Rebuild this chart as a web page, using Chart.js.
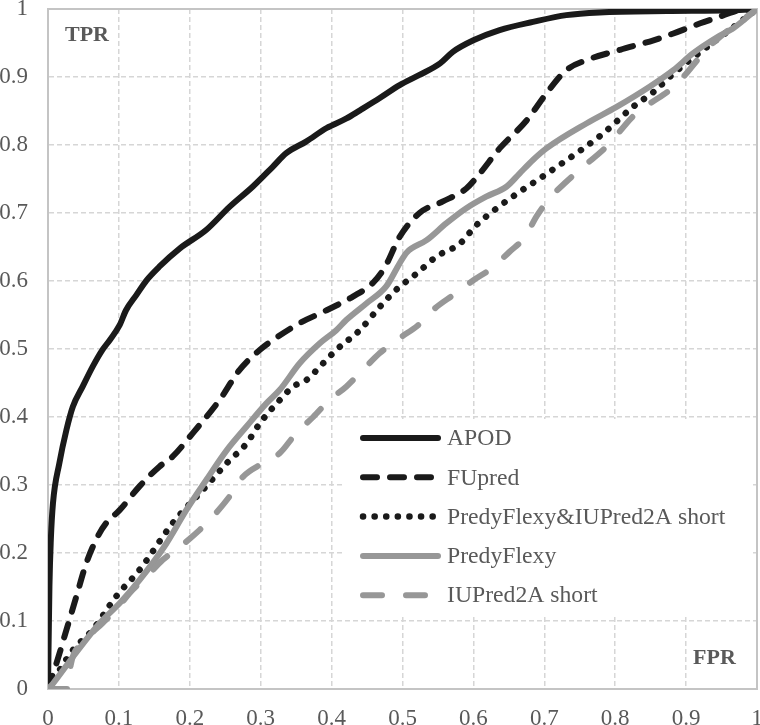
<!DOCTYPE html>
<html>
<head>
<meta charset="utf-8">
<script src="https://cdn.jsdelivr.net/npm/chart.js@4.4.1/dist/chart.umd.min.js"></script>
<style>
  body { margin: 0; background: #fff; }
  #wrap { width: 760px; height: 725px; }
</style>
</head>
<body>
<div id="wrap"><canvas id="roc"></canvas></div>
<script>
// ROC curves (FPR on x, TPR on y)
const tickLabels = ['0', '0.1', '0.2', '0.3', '0.4', '0.5', '0.6', '0.7', '0.8', '0.9', '1'];
const seriesNames = ['APOD', 'FUpred', 'PredyFlexy&IUPred2A short', 'PredyFlexy', 'IUPred2A short'];

const apodFpr = [0, 0.002, 0.004, 0.007, 0.016, 0.026, 0.035, 0.049, 0.063, 0.077, 0.087, 0.101, 0.110, 0.125, 0.139, 0.157, 0.186, 0.223, 0.256, 0.289, 0.317, 0.336, 0.364, 0.393, 0.421, 0.44, 0.468, 0.496, 0.524, 0.553, 0.571, 0.60, 0.637, 0.684, 0.731, 0.778, 0.873, 0.966, 1];
const apodTpr = [0, 0.15, 0.22, 0.273, 0.332, 0.381, 0.415, 0.445, 0.474, 0.499, 0.513, 0.535, 0.557, 0.58, 0.601, 0.621, 0.648, 0.675, 0.709, 0.739, 0.768, 0.788, 0.805, 0.825, 0.839, 0.851, 0.869, 0.888, 0.903, 0.920, 0.937, 0.954, 0.969, 0.981, 0.991, 0.995, 0.997, 0.998, 1];

const fupredFpr = [0, 0.012, 0.026, 0.040, 0.054, 0.070, 0.082, 0.101, 0.129, 0.157, 0.176, 0.204, 0.242, 0.270, 0.299, 0.317, 0.355, 0.393, 0.430, 0.458, 0.475, 0.496, 0.524, 0.557, 0.590, 0.609, 0.637, 0.675, 0.703, 0.731, 0.760, 0.807, 0.854, 0.882, 0.920, 0.948, 0.967, 0.994, 1];
const fupredTpr = [0, 0.038, 0.087, 0.136, 0.185, 0.224, 0.244, 0.263, 0.298, 0.327, 0.342, 0.376, 0.425, 0.469, 0.499, 0.513, 0.538, 0.557, 0.577, 0.597, 0.62, 0.665, 0.700, 0.717, 0.736, 0.758, 0.795, 0.836, 0.876, 0.910, 0.925, 0.940, 0.954, 0.964, 0.979, 0.989, 0.996, 0.999, 1];

const comboFpr = [0, 0.035, 0.063, 0.096, 0.129, 0.176, 0.223, 0.252, 0.280, 0.299, 0.327, 0.346, 0.364, 0.388, 0.407, 0.440, 0.468, 0.491, 0.520, 0.548, 0.581, 0.604, 0.633, 0.665, 0.694, 0.722, 0.755, 0.783, 0.825, 0.854, 0.880, 0.908, 0.95, 1];
const comboTpr = [0, 0.057, 0.087, 0.136, 0.175, 0.244, 0.298, 0.332, 0.361, 0.391, 0.425, 0.445, 0.454, 0.479, 0.499, 0.528, 0.562, 0.587, 0.611, 0.636, 0.655, 0.682, 0.707, 0.731, 0.751, 0.771, 0.795, 0.817, 0.856, 0.878, 0.903, 0.927, 0.96, 1];

const predyFpr = [0, 0.007, 0.035, 0.073, 0.101, 0.129, 0.167, 0.195, 0.223, 0.252, 0.280, 0.308, 0.327, 0.355, 0.383, 0.407, 0.421, 0.449, 0.477, 0.496, 0.506, 0.534, 0.562, 0.590, 0.618, 0.647, 0.665, 0.684, 0.703, 0.760, 0.802, 0.849, 0.882, 0.910, 0.943, 0.967, 1];
const predyTpr = [0, 0.008, 0.047, 0.097, 0.126, 0.160, 0.214, 0.263, 0.307, 0.351, 0.386, 0.420, 0.440, 0.479, 0.508, 0.528, 0.543, 0.567, 0.592, 0.626, 0.642, 0.660, 0.685, 0.707, 0.724, 0.739, 0.758, 0.778, 0.795, 0.832, 0.856, 0.886, 0.910, 0.935, 0.958, 0.972, 1];

const iupredFpr = [0, 0.028, 0.032, 0.049, 0.077, 0.096, 0.115, 0.139, 0.162, 0.186, 0.214, 0.232, 0.256, 0.275, 0.303, 0.327, 0.350, 0.374, 0.397, 0.421, 0.444, 0.468, 0.496, 0.522, 0.546, 0.571, 0.600, 0.626, 0.651, 0.673, 0.689, 0.708, 0.731, 0.755, 0.79, 0.825, 0.849, 0.877, 0.896, 0.920, 0.938, 1];
const iupredTpr = [0, 0, 0.035, 0.067, 0.097, 0.116, 0.141, 0.165, 0.190, 0.209, 0.234, 0.253, 0.283, 0.312, 0.332, 0.347, 0.376, 0.400, 0.425, 0.445, 0.469, 0.494, 0.516, 0.535, 0.560, 0.579, 0.601, 0.619, 0.643, 0.665, 0.695, 0.722, 0.746, 0.768, 0.80, 0.842, 0.861, 0.881, 0.900, 0.930, 0.950, 1];

const pts = (xs, ys) => xs.map((x, i) => ({ x: x, y: ys[i] }));

const BLACK = '#1a1a1a';
const GREY = '#979797';
const TEXT = '#595959';
const SERIF = "'Liberation Serif', 'Times New Roman', serif";

function line(label, data, color, dash, width, order) {
  return {
    label: label,
    data: data,
    showLine: true,
    borderColor: color,
    backgroundColor: color,
    borderWidth: width,
    borderDash: dash,
    borderCapStyle: 'round',
    borderJoinStyle: 'round',
    cubicInterpolationMode: 'monotone',
    pointRadius: 0,
    order: order
  };
}

// frame round the plot area (top and right edges are solid, like the axes)
const framePlugin = {
  id: 'frame',
  beforeDatasetsDraw(chart) {
    const { ctx, chartArea: a } = chart;
    ctx.save();
    ctx.strokeStyle = '#c4c4c4';
    ctx.lineWidth = 2;
    ctx.strokeRect(a.left, a.top, a.right - a.left, a.bottom - a.top);
    ctx.restore();
  }
};

// legend box inside the plot + the TPR / FPR labels
const legendPlugin = {
  id: 'insideLegend',
  afterDatasetsDraw(chart) {
    const ctx = chart.ctx;
    ctx.save();
    ctx.fillStyle = '#fff';
    ctx.fillRect(342, 419, 410, 198);
    chart.data.datasets.forEach((ds, i) => {
      const y = 438 + i * 39.3;
      ctx.beginPath();
      ctx.strokeStyle = ds.borderColor;
      ctx.lineWidth = ds.borderWidth;
      ctx.lineCap = 'round';
      ctx.setLineDash(ds.borderDash);
      ctx.moveTo(363, y);
      ctx.lineTo(438, y);
      ctx.stroke();
      ctx.setLineDash([]);
      ctx.fillStyle = TEXT;
      ctx.font = '23.7px ' + SERIF;
      ctx.textBaseline = 'middle';
      ctx.textAlign = 'left';
      ctx.fillText(ds.label, 447, y + 1);
    });
    ctx.font = 'bold 22px ' + SERIF;
    ctx.fillStyle = TEXT;
    ctx.textBaseline = 'middle';
    ctx.fillText('TPR', 65, 35);
    ctx.fillText('FPR', 693, 658);
    ctx.restore();
  }
};

const gridOpts = { color: '#d6d6d6', lineWidth: 1.5, drawTicks: false };
const borderOpts = { color: '#c4c4c4', width: 2, dash: [5, 3] };

new Chart(document.getElementById('roc'), {
  type: 'scatter',
  data: {
    datasets: [
      line(seriesNames[0], pts(apodFpr, apodTpr), BLACK, [], 6, 5),
      line(seriesNames[1], pts(fupredFpr, fupredTpr), BLACK, [14, 13], 6, 4),
      line(seriesNames[2], pts(comboFpr, comboTpr), BLACK, [0.1, 11.5], 6.5, 3),
      line(seriesNames[3], pts(predyFpr, predyTpr), GREY, [], 6, 2),
      line(seriesNames[4], pts(iupredFpr, iupredTpr), GREY, [19, 24], 6, 1)
    ]
  },
  options: {
    responsive: true,
    maintainAspectRatio: false,
    animation: false,
    layout: { padding: { top: 9, right: 3, left: 0, bottom: 0 } },
    plugins: {
      legend: { display: false },
      tooltip: { enabled: false }
    },
    scales: {
      x: {
        type: 'linear',
        min: 0,
        max: 1,
        grid: gridOpts,
        border: borderOpts,
        ticks: {
          stepSize: 0.1,
          padding: 16,
          color: TEXT,
          font: { family: SERIF, size: 23 },
          maxRotation: 0,
          callback: (v, i) => tickLabels[i]
        },
        afterFit: s => { s.height = 36; s.paddingLeft = 0; s.paddingRight = 0; }
      },
      y: {
        type: 'linear',
        min: 0,
        max: 1,
        grid: gridOpts,
        border: borderOpts,
        ticks: {
          stepSize: 0.1,
          padding: 20,
          color: TEXT,
          font: { family: SERIF, size: 23, lineHeight: 0.7 },
          callback: (v, i) => tickLabels[i]
        },
        afterFit: s => { s.width = 48; s.paddingTop = 0; s.paddingBottom = 0; }
      }
    }
  },
  plugins: [framePlugin, legendPlugin]
});
</script>
</body>
</html>
